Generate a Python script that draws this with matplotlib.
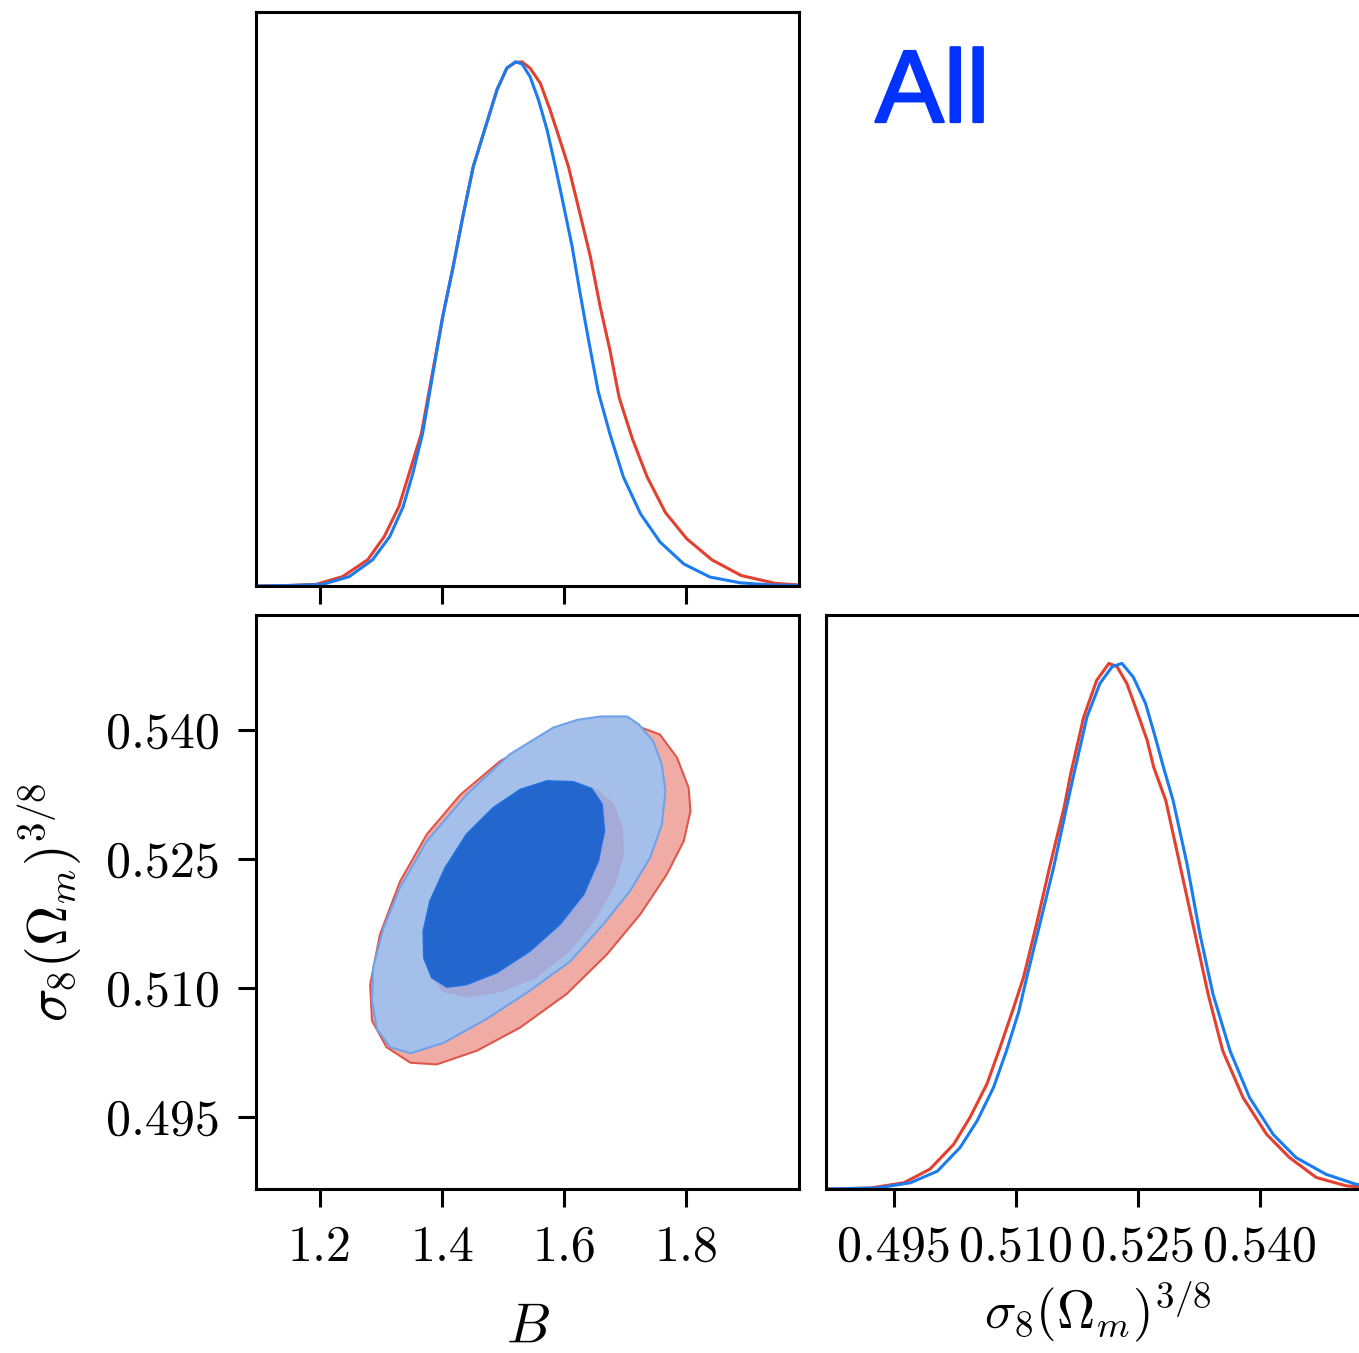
import matplotlib
matplotlib.use('Agg')
import matplotlib.pyplot as plt
import matplotlib.patheffects as pe

# font in stile LaTeX (Computer Modern)
plt.rcParams.update({'mathtext.fontset': 'cm', 'font.family': 'serif',
                     'font.serif': ['cmr10'], 'axes.formatter.use_mathtext': True})

# --- dati ---
# posteriore 1D di B
B_blue_x = [1.095, 1.150, 1.204, 1.248, 1.286, 1.314, 1.336, 1.352, 1.368, 1.385, 1.401, 1.418,
            1.434, 1.451, 1.473, 1.490, 1.506, 1.520, 1.531, 1.544, 1.558, 1.572, 1.585, 1.596,
            1.613, 1.626, 1.640, 1.656, 1.675, 1.697, 1.725, 1.757, 1.796, 1.839, 1.889, 1.940,
            1.985]
B_blue_y = [0.000, 0.001, 0.003, 0.018, 0.050, 0.094, 0.151, 0.215, 0.291, 0.406, 0.514, 0.609,
            0.705, 0.800, 0.883, 0.947, 0.988, 1.000, 0.996, 0.972, 0.927, 0.870, 0.803, 0.743,
            0.648, 0.559, 0.469, 0.370, 0.290, 0.208, 0.138, 0.084, 0.042, 0.017, 0.006, 0.002,
            0.001]
B_red_x = [1.095, 1.150, 1.193, 1.237, 1.278, 1.305, 1.329, 1.346, 1.366, 1.384, 1.401, 1.418,
           1.434, 1.451, 1.473, 1.490, 1.506, 1.520, 1.531, 1.544, 1.561, 1.577, 1.593, 1.607,
           1.623, 1.643, 1.659, 1.675, 1.690, 1.712, 1.736, 1.766, 1.801, 1.842, 1.890, 1.946,
           1.985]
B_red_y = [0.000, 0.001, 0.003, 0.018, 0.050, 0.094, 0.151, 0.215, 0.291, 0.406, 0.514, 0.609,
           0.705, 0.800, 0.883, 0.947, 0.988, 0.999, 1.000, 0.988, 0.959, 0.908, 0.851, 0.800,
           0.724, 0.628, 0.533, 0.450, 0.360, 0.280, 0.208, 0.140, 0.090, 0.050, 0.020, 0.005,
           0.002]

# posteriore 1D di sigma8 (Omega_m)^(3/8)
S_blue_x = [0.4868, 0.4929, 0.4970, 0.5003, 0.5031, 0.5052, 0.5072, 0.5088, 0.5103, 0.5113,
            0.5129, 0.5146, 0.5162, 0.5171, 0.5187, 0.5203, 0.5218, 0.5230, 0.5244, 0.5259,
            0.5271, 0.5281, 0.5293, 0.5310, 0.5326, 0.5342, 0.5363, 0.5387, 0.5416, 0.5444,
            0.5481, 0.5518, 0.5533]
S_blue_y = [0.000, 0.002, 0.012, 0.034, 0.079, 0.130, 0.193, 0.263, 0.337, 0.403,
            0.504, 0.612, 0.727, 0.790, 0.898, 0.962, 0.994, 1.000, 0.974, 0.924,
            0.860, 0.803, 0.739, 0.619, 0.485, 0.371, 0.263, 0.174, 0.104, 0.060,
            0.028, 0.009, 0.006]
S_red_x = [0.4868, 0.4921, 0.4962, 0.4994, 0.5023, 0.5043, 0.5064, 0.5080, 0.5097, 0.5109,
           0.5125, 0.5141, 0.5159, 0.5167, 0.5183, 0.5199, 0.5214, 0.5224, 0.5236, 0.5248,
           0.5261, 0.5269, 0.5284, 0.5301, 0.5320, 0.5336, 0.5354, 0.5379, 0.5408, 0.5436,
           0.5469, 0.5506, 0.5533]
S_red_y = [0.000, 0.002, 0.012, 0.038, 0.085, 0.136, 0.200, 0.269, 0.346, 0.403,
           0.504, 0.612, 0.727, 0.790, 0.898, 0.968, 1.000, 0.994, 0.962, 0.911,
           0.854, 0.803, 0.739, 0.619, 0.485, 0.371, 0.263, 0.174, 0.104, 0.060,
           0.022, 0.006, 0.003]

# contorni 2D (95% esterno, 68% interno)
red95_B = [1.719, 1.757, 1.785, 1.804, 1.807, 1.796, 1.768, 1.725, 1.670, 1.604, 1.528, 1.457,
           1.391, 1.348, 1.309, 1.285, 1.282, 1.298, 1.331, 1.375, 1.430, 1.495, 1.566, 1.648]
red95_S = [0.5405, 0.5395, 0.5368, 0.5333, 0.5306, 0.5271, 0.5232, 0.5186, 0.5139, 0.5093,
           0.5054, 0.5027, 0.5011, 0.5013, 0.5031, 0.5062, 0.5104, 0.5162, 0.5224, 0.5279,
           0.5325, 0.5364, 0.5391, 0.5405]
blue95_B = [1.511, 1.582, 1.621, 1.659, 1.703, 1.722, 1.746, 1.760, 1.766, 1.760, 1.741, 1.708,
            1.664, 1.610, 1.544, 1.473, 1.402, 1.348, 1.315, 1.293, 1.285, 1.287, 1.304, 1.331,
            1.375, 1.440]
blue95_S = [0.5372, 0.5403, 0.5412, 0.5416, 0.5416, 0.5407, 0.5387, 0.5360, 0.5329, 0.5290,
            0.5252, 0.5213, 0.5174, 0.5131, 0.5097, 0.5064, 0.5036, 0.5024, 0.5031, 0.5052,
            0.5085, 0.5124, 0.5170, 0.5217, 0.5271, 0.5325]
red68_B = [1.572, 1.615, 1.654, 1.681, 1.697, 1.698, 1.684, 1.654, 1.610, 1.555, 1.495, 1.440,
           1.402, 1.378, 1.369, 1.375, 1.391, 1.419, 1.457, 1.500, 1.539]
red68_S = [0.5340, 0.5339, 0.5331, 0.5315, 0.5286, 0.5255, 0.5221, 0.5182, 0.5143, 0.5112,
           0.5095, 0.5089, 0.5095, 0.5116, 0.5147, 0.5182, 0.5217, 0.5255, 0.5290, 0.5317, 0.5333]
blue68_B = [1.572, 1.615, 1.645, 1.662, 1.666, 1.656, 1.632, 1.593, 1.544, 1.490, 1.440, 1.408,
            1.383, 1.370, 1.369, 1.380, 1.405, 1.440, 1.484, 1.528]
blue68_S = [0.5341, 0.5340, 0.5332, 0.5314, 0.5283, 0.5248, 0.5209, 0.5174, 0.5143, 0.5118,
            0.5104, 0.5101, 0.5112, 0.5135, 0.5166, 0.5201, 0.5240, 0.5279, 0.5310, 0.5331]

B_ticks = [1.2, 1.4, 1.6, 1.8]
B_labels = ['1.2', '1.4', '1.6', '1.8']
S_ticks = [0.495, 0.510, 0.525, 0.540]
S_labels = ['0.495', '0.510', '0.525', '0.540']
B_lim = (1.095, 1.985)
S_lim = (0.4866, 0.5534)

red = '#e4402f'
blue = '#1b7cf0'

fig = plt.figure(figsize=(13.59, 13.53), dpi=100)
ax_b = fig.add_axes([0.1884, 0.5669, 0.3996, 0.4242])
ax_2d = fig.add_axes([0.1884, 0.1212, 0.3996, 0.4242])
ax_s = fig.add_axes([0.6078, 0.1212, 0.3996, 0.4242])

for ax in (ax_b, ax_2d, ax_s):
    for sp in ax.spines.values():
        sp.set_linewidth(2.2)
    ax.tick_params(direction='out', length=13, width=2.2, labelsize=36, pad=13)

# pannello 1D di B
ax_b.plot(B_red_x, B_red_y, color=red, lw=2.2, solid_joinstyle='round')
ax_b.plot(B_blue_x, B_blue_y, color=blue, lw=2.2, solid_joinstyle='round')
ax_b.set_xlim(B_lim)
ax_b.set_ylim(0, 1.095)
ax_b.set_xticks(B_ticks)
ax_b.set_xticklabels([])
ax_b.set_yticks([])

# pannello 2D
ax_2d.fill(red95_B, red95_S, facecolor='#f0aba4', edgecolor='#e0564a', lw=1.5, joinstyle='round')
ax_2d.fill(blue95_B, blue95_S, facecolor='#a4c0ea', edgecolor='#6fa2e8', lw=1.5, joinstyle='round')
ax_2d.fill(red68_B, red68_S, facecolor='#a5aad6', edgecolor='none')
ax_2d.fill(blue68_B, blue68_S, facecolor='#2366cd', edgecolor='#1f6fe0', lw=1.2, joinstyle='round')
ax_2d.set_xlim(B_lim)
ax_2d.set_ylim(S_lim)
ax_2d.set_xticks(B_ticks)
ax_2d.set_xticklabels(B_labels)
ax_2d.set_yticks(S_ticks)
ax_2d.set_yticklabels(S_labels)
ax_2d.set_xlabel(r'$B$', fontsize=40, labelpad=24)
ax_2d.set_ylabel(r'$\sigma_8(\Omega_m)^{3/8}$', fontsize=40, labelpad=16)

# pannello 1D di sigma8
ax_s.plot(S_red_x, S_red_y, color=red, lw=2.2, solid_joinstyle='round')
ax_s.plot(S_blue_x, S_blue_y, color=blue, lw=2.2, solid_joinstyle='round')
ax_s.set_xlim(S_lim)
ax_s.set_ylim(0, 1.092)
ax_s.set_xticks(S_ticks)
ax_s.set_xticklabels(S_labels)
ax_s.set_yticks([])
ax_s.set_xlabel(r'$\sigma_8(\Omega_m)^{3/8}$', fontsize=38, labelpad=6)

fig.text(0.686, 0.9295, 'All', color='#0033ff', fontsize=74, family='Liberation Sans',
         ha='center', va='center',
         path_effects=[pe.withStroke(linewidth=1.8, foreground='#0033ff')])

plt.savefig('out.png', dpi=100)
plt.close()
